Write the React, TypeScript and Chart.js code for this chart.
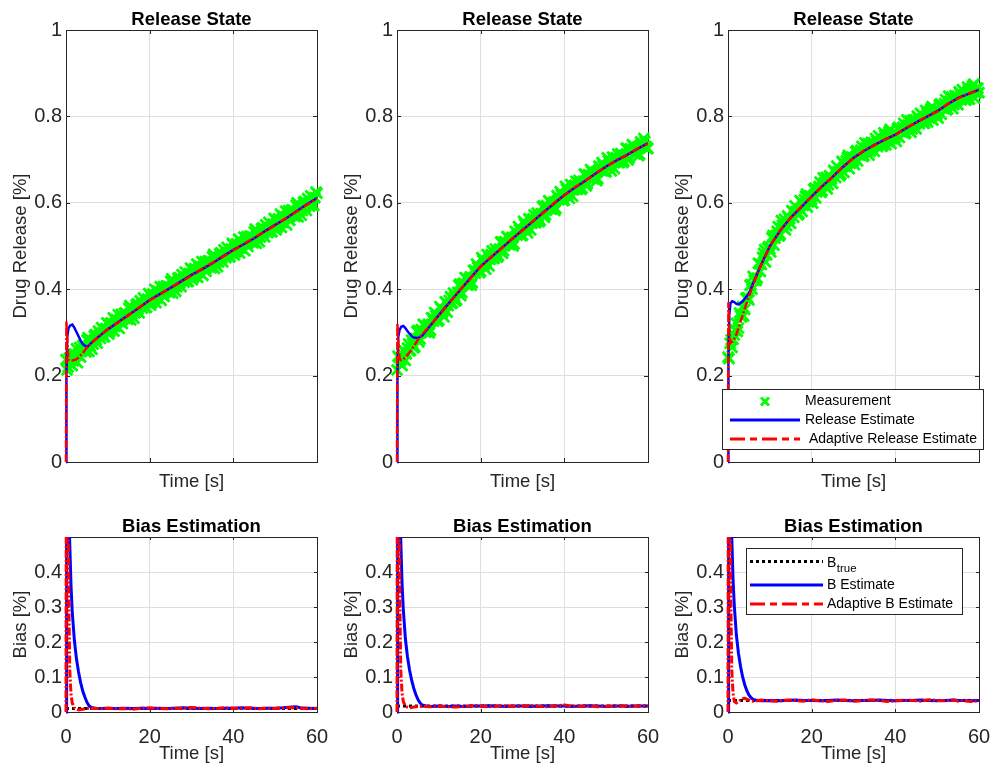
import React, { useEffect, useRef } from 'react';
import { Chart, registerables } from 'chart.js';

Chart.register(...registerables);

const FONT = "Arial, 'Liberation Sans', Helvetica, sans-serif";
const AX = '#262626';
const GRID = '#dedede';
const GREEN = '#00ff00';
const BLUE = '#0000ff';
const RED = '#ff0000';
const RED_DASH = [8, 2, 2, 2];

// ---------- tick values ----------
const X_TICKS = [0, 20, 40, 60];
const Y_TICKS_RELEASE = [0, 0.2, 0.4, 0.6, 0.8, 1];
const Y_TICKS_BIAS = [0, 0.1, 0.2, 0.3, 0.4];

// ---------- measurement (green crosses) ----------
const MEAS_TIME = [
  0, 0.5, 1, 1.5, 2, 2.5, 3, 3.5, 4, 4.5, 5, 5.5, 6, 6.5, 7, 7.5, 8, 8.5, 9, 9.5,
  10, 10.5, 11, 11.5, 12, 12.5, 13, 13.5, 14, 14.5, 15, 15.5, 16, 16.5, 17, 17.5, 18, 18.5, 19, 19.5,
  20, 20.5, 21, 21.5, 22, 22.5, 23, 23.5, 24, 24.5, 25, 25.5, 26, 26.5, 27, 27.5, 28, 28.5, 29, 29.5,
  30, 30.5, 31, 31.5, 32, 32.5, 33, 33.5, 34, 34.5, 35, 35.5, 36, 36.5, 37, 37.5, 38, 38.5, 39, 39.5,
  40, 40.5, 41, 41.5, 42, 42.5, 43, 43.5, 44, 44.5, 45, 45.5, 46, 46.5, 47, 47.5, 48, 48.5, 49, 49.5,
  50, 50.5, 51, 51.5, 52, 52.5, 53, 53.5, 54, 54.5, 55, 55.5, 56, 56.5, 57, 57.5, 58, 58.5, 59, 59.5,
  60,
];

const MEAS_TIME_B = [
  0.25, 0.75, 1.25, 1.75, 2.25, 2.75, 3.25, 3.75, 4.25, 4.75, 5.25, 5.75, 6.25, 6.75, 7.25, 7.75, 8.25, 8.75, 9.25, 9.75,
  10.25, 10.75, 11.25, 11.75, 12.25, 12.75, 13.25, 13.75, 14.25, 14.75, 15.25, 15.75, 16.25, 16.75, 17.25, 17.75, 18.25, 18.75, 19.25, 19.75,
  20.25, 20.75, 21.25, 21.75, 22.25, 22.75, 23.25, 23.75, 24.25, 24.75, 25.25, 25.75, 26.25, 26.75, 27.25, 27.75, 28.25, 28.75, 29.25, 29.75,
  30.25, 30.75, 31.25, 31.75, 32.25, 32.75, 33.25, 33.75, 34.25, 34.75, 35.25, 35.75, 36.25, 36.75, 37.25, 37.75, 38.25, 38.75, 39.25, 39.75,
  40.25, 40.75, 41.25, 41.75, 42.25, 42.75, 43.25, 43.75, 44.25, 44.75, 45.25, 45.75, 46.25, 46.75, 47.25, 47.75, 48.25, 48.75, 49.25, 49.75,
  50.25, 50.75, 51.25, 51.75, 52.25, 52.75, 53.25, 53.75, 54.25, 54.75, 55.25, 55.75, 56.25, 56.75, 57.25, 57.75, 58.25, 58.75, 59.25, 59.75,
];

const MEAS_1 = [
  0.237, 0.220, 0.238, 0.223, 0.250, 0.262, 0.247, 0.243, 0.269, 0.262,
  0.282, 0.256, 0.282, 0.273, 0.295, 0.275, 0.294, 0.311, 0.290, 0.309,
  0.320, 0.302, 0.319, 0.303, 0.330, 0.341, 0.324, 0.320, 0.345, 0.337,
  0.356, 0.329, 0.354, 0.345, 0.366, 0.345, 0.364, 0.380, 0.358, 0.377,
  0.387, 0.369, 0.385, 0.369, 0.395, 0.406, 0.388, 0.383, 0.408, 0.399,
  0.418, 0.391, 0.416, 0.406, 0.427, 0.406, 0.424, 0.440, 0.418, 0.436,
  0.446, 0.428, 0.443, 0.427, 0.453, 0.464, 0.446, 0.441, 0.466, 0.456,
  0.475, 0.448, 0.473, 0.463, 0.484, 0.463, 0.481, 0.497, 0.475, 0.493,
  0.503, 0.485, 0.501, 0.484, 0.510, 0.521, 0.504, 0.499, 0.523, 0.514,
  0.533, 0.506, 0.531, 0.521, 0.542, 0.521, 0.539, 0.555, 0.533, 0.551,
  0.561, 0.543, 0.559, 0.543, 0.569, 0.581, 0.564, 0.559, 0.584, 0.575,
  0.594, 0.567, 0.592, 0.582, 0.603, 0.582, 0.600, 0.616, 0.594, 0.612,
  0.622,
];
const MEAS_1B = [
  0.213, 0.240, 0.253, 0.234, 0.247, 0.230, 0.265, 0.256, 0.268, 0.255,
  0.288, 0.269, 0.261, 0.292, 0.283, 0.303, 0.286, 0.299, 0.290, 0.322,
  0.296, 0.322, 0.334, 0.314, 0.327, 0.309, 0.342, 0.333, 0.344, 0.330,
  0.362, 0.342, 0.333, 0.364, 0.354, 0.373, 0.356, 0.368, 0.358, 0.390,
  0.363, 0.389, 0.400, 0.380, 0.392, 0.374, 0.406, 0.396, 0.407, 0.392,
  0.424, 0.404, 0.395, 0.425, 0.415, 0.434, 0.416, 0.428, 0.418, 0.449,
  0.422, 0.448, 0.458, 0.438, 0.450, 0.432, 0.464, 0.454, 0.465, 0.449,
  0.481, 0.461, 0.452, 0.482, 0.472, 0.491, 0.473, 0.485, 0.475, 0.506,
  0.479, 0.505, 0.516, 0.495, 0.507, 0.489, 0.522, 0.512, 0.522, 0.507,
  0.539, 0.519, 0.510, 0.540, 0.530, 0.549, 0.531, 0.543, 0.533, 0.564,
  0.537, 0.563, 0.574, 0.554, 0.566, 0.549, 0.582, 0.572, 0.583, 0.568,
  0.600, 0.580, 0.571, 0.601, 0.591, 0.610, 0.592, 0.604, 0.594, 0.625,
];

const MEAS_2 = [
  0.213, 0.242, 0.236, 0.259, 0.235, 0.264, 0.257, 0.282, 0.264, 0.286,
  0.305, 0.285, 0.305, 0.317, 0.301, 0.319, 0.305, 0.333, 0.346, 0.331,
  0.328, 0.356, 0.349, 0.371, 0.347, 0.374, 0.367, 0.391, 0.372, 0.393,
  0.412, 0.392, 0.413, 0.426, 0.410, 0.429, 0.415, 0.444, 0.458, 0.443,
  0.441, 0.467, 0.459, 0.480, 0.454, 0.480, 0.471, 0.493, 0.474, 0.493,
  0.510, 0.489, 0.508, 0.520, 0.503, 0.520, 0.505, 0.532, 0.545, 0.529,
  0.525, 0.551, 0.543, 0.563, 0.537, 0.563, 0.554, 0.576, 0.556, 0.575,
  0.593, 0.572, 0.591, 0.602, 0.585, 0.602, 0.587, 0.614, 0.626, 0.610,
  0.606, 0.631, 0.623, 0.642, 0.615, 0.641, 0.631, 0.652, 0.631, 0.650,
  0.666, 0.644, 0.663, 0.673, 0.655, 0.671, 0.656, 0.682, 0.693, 0.677,
  0.672, 0.697, 0.687, 0.706, 0.679, 0.704, 0.693, 0.714, 0.693, 0.710,
  0.726, 0.704, 0.721, 0.731, 0.713, 0.729, 0.712, 0.738, 0.749, 0.731,
  0.726,
];
const MEAS_2B = [
  0.245, 0.229, 0.223, 0.257, 0.250, 0.273, 0.258, 0.274, 0.267, 0.302,
  0.278, 0.306, 0.319, 0.301, 0.315, 0.299, 0.334, 0.326, 0.339, 0.326,
  0.360, 0.343, 0.336, 0.369, 0.362, 0.383, 0.368, 0.383, 0.375, 0.409,
  0.385, 0.413, 0.427, 0.410, 0.424, 0.409, 0.444, 0.437, 0.451, 0.438,
  0.473, 0.454, 0.446, 0.478, 0.469, 0.489, 0.472, 0.485, 0.477, 0.509,
  0.483, 0.510, 0.522, 0.504, 0.517, 0.500, 0.534, 0.525, 0.538, 0.524,
  0.557, 0.538, 0.530, 0.561, 0.552, 0.572, 0.555, 0.568, 0.559, 0.591,
  0.566, 0.593, 0.605, 0.586, 0.599, 0.582, 0.616, 0.607, 0.619, 0.605,
  0.638, 0.618, 0.610, 0.640, 0.630, 0.650, 0.632, 0.644, 0.634, 0.666,
  0.639, 0.665, 0.677, 0.657, 0.669, 0.651, 0.685, 0.675, 0.686, 0.672,
  0.704, 0.684, 0.674, 0.704, 0.694, 0.713, 0.694, 0.706, 0.696, 0.726,
  0.699, 0.725, 0.735, 0.715, 0.727, 0.709, 0.741, 0.731, 0.742, 0.726,
];

const MEAS_3 = [
  0.243, 0.275, 0.265, 0.294, 0.321, 0.310, 0.339, 0.360, 0.353, 0.380,
  0.375, 0.410, 0.430, 0.422, 0.426, 0.459, 0.457, 0.483, 0.463, 0.496,
  0.493, 0.519, 0.502, 0.525, 0.545, 0.527, 0.548, 0.562, 0.547, 0.566,
  0.552, 0.580, 0.593, 0.578, 0.575, 0.602, 0.594, 0.615, 0.590, 0.616,
  0.608, 0.631, 0.611, 0.631, 0.648, 0.628, 0.647, 0.659, 0.642, 0.660,
  0.645, 0.672, 0.685, 0.669, 0.666, 0.692, 0.684, 0.705, 0.679, 0.706,
  0.697, 0.718, 0.697, 0.715, 0.731, 0.709, 0.727, 0.737, 0.719, 0.735,
  0.719, 0.744, 0.755, 0.737, 0.732, 0.756, 0.746, 0.765, 0.737, 0.762,
  0.751, 0.772, 0.751, 0.768, 0.784, 0.762, 0.780, 0.790, 0.771, 0.787,
  0.771, 0.797, 0.807, 0.790, 0.784, 0.809, 0.800, 0.818, 0.791, 0.815,
  0.805, 0.826, 0.805, 0.823, 0.839, 0.817, 0.835, 0.845, 0.827, 0.843,
  0.827, 0.852, 0.862, 0.844, 0.838, 0.862, 0.852, 0.870, 0.842, 0.866,
  0.855,
];
const MEAS_3B = [
  0.239, 0.283, 0.284, 0.306, 0.302, 0.345, 0.336, 0.338, 0.379, 0.380,
  0.409, 0.400, 0.421, 0.420, 0.460, 0.441, 0.474, 0.492, 0.479, 0.499,
  0.486, 0.524, 0.518, 0.534, 0.523, 0.559, 0.542, 0.537, 0.570, 0.563,
  0.582, 0.566, 0.580, 0.572, 0.605, 0.580, 0.607, 0.620, 0.602, 0.615,
  0.599, 0.634, 0.625, 0.638, 0.624, 0.658, 0.639, 0.632, 0.663, 0.655,
  0.675, 0.658, 0.672, 0.663, 0.696, 0.670, 0.697, 0.710, 0.691, 0.705,
  0.688, 0.721, 0.711, 0.722, 0.707, 0.739, 0.719, 0.710, 0.740, 0.730,
  0.749, 0.730, 0.742, 0.731, 0.762, 0.734, 0.759, 0.770, 0.749, 0.761,
  0.742, 0.775, 0.765, 0.775, 0.760, 0.792, 0.772, 0.763, 0.792, 0.782,
  0.801, 0.783, 0.794, 0.784, 0.814, 0.787, 0.813, 0.823, 0.803, 0.814,
  0.796, 0.829, 0.819, 0.830, 0.815, 0.847, 0.827, 0.818, 0.848, 0.838,
  0.857, 0.838, 0.849, 0.838, 0.868, 0.840, 0.865, 0.875, 0.854, 0.865,
];

// ---------- release estimates ----------
const EST_TIME = [
  0, 0.1, 0.3, 0.6, 1, 1.5, 2, 2.5, 3, 3.5, 4, 5, 6, 7.5,
  10, 12.5, 15, 17.5, 20, 22.5, 25, 27.5, 30, 32.5, 35, 37.5, 40, 42.5, 45, 47.5, 50, 52.5, 55, 57.5, 60,
];

const REL_EST_1 = [
  0, 0.20, 0.29, 0.31, 0.316, 0.318, 0.311, 0.301, 0.291, 0.281, 0.273, 0.266, 0.275, 0.288,
  0.307, 0.324, 0.341, 0.357, 0.375, 0.389, 0.403, 0.418, 0.433, 0.446, 0.460, 0.476, 0.491, 0.504, 0.518, 0.534, 0.549, 0.563, 0.580, 0.596, 0.611,
];
const ADAPT_EST_1 = [
  0, 0.325, 0.28, 0.236, 0.236, 0.235, 0.236, 0.238, 0.242, 0.247, 0.252, 0.265, 0.275, 0.287,
  0.308, 0.323, 0.340, 0.358, 0.374, 0.388, 0.404, 0.417, 0.432, 0.447, 0.461, 0.475, 0.490, 0.505, 0.519, 0.533, 0.548, 0.564, 0.579, 0.595, 0.610,
];

const REL_EST_2 = [
  0, 0.20, 0.29, 0.305, 0.313, 0.315, 0.310, 0.303, 0.297, 0.291, 0.288, 0.287, 0.292, 0.310,
  0.340, 0.369, 0.397, 0.425, 0.453, 0.474, 0.495, 0.516, 0.537, 0.557, 0.578, 0.598, 0.618, 0.635, 0.651, 0.668, 0.684, 0.698, 0.711, 0.725, 0.738,
];
const ADAPT_EST_2 = [
  0, 0.32, 0.28, 0.238, 0.236, 0.238, 0.242, 0.248, 0.254, 0.260, 0.268, 0.283, 0.295, 0.312,
  0.339, 0.368, 0.398, 0.424, 0.452, 0.475, 0.494, 0.517, 0.536, 0.558, 0.577, 0.599, 0.617, 0.636, 0.650, 0.669, 0.683, 0.699, 0.710, 0.726, 0.737,
];

const REL_EST_3 = [
  0, 0.24, 0.34, 0.368, 0.372, 0.370, 0.366, 0.365, 0.368, 0.372, 0.378, 0.390, 0.413, 0.448,
  0.500, 0.536, 0.566, 0.590, 0.615, 0.638, 0.660, 0.683, 0.704, 0.720, 0.734, 0.746, 0.758, 0.772, 0.786, 0.799, 0.812, 0.828, 0.843, 0.852, 0.862,
];
const ADAPT_EST_3 = [
  0, 0.37, 0.31, 0.275, 0.278, 0.285, 0.295, 0.310, 0.325, 0.340, 0.355, 0.383, 0.410, 0.447,
  0.499, 0.537, 0.565, 0.591, 0.614, 0.639, 0.659, 0.684, 0.703, 0.721, 0.733, 0.747, 0.757, 0.773, 0.785, 0.800, 0.811, 0.829, 0.842, 0.853, 0.861,
];

// ---------- bias ----------
const BIAS_TIME = [
  0, 0.1, 0.2, 0.3, 0.4, 0.5, 0.7, 0.9, 1.2, 1.5, 2, 2.5, 3, 3.5, 4, 4.5, 5, 5.5, 6, 7, 8,
  10, 12, 14, 16, 18, 20, 22, 24, 26, 28, 30, 32, 34, 36, 38, 40, 42, 44, 46, 48, 50, 52, 54,
  55, 56, 58, 60,
];

const B_EST_1 = [
  0, 0.75, 0.82, 0.80, 0.76, 0.68, 0.57, 0.48, 0.36, 0.285, 0.205, 0.152, 0.114, 0.084, 0.060, 0.043, 0.028, 0.018, 0.013, 0.011, 0.010,
  0.011, 0.010, 0.011, 0.010, 0.011, 0.010, 0.011, 0.010, 0.011, 0.012, 0.011, 0.010, 0.011, 0.010, 0.011, 0.011, 0.012, 0.011, 0.010, 0.011, 0.011, 0.012, 0.014,
  0.015, 0.012, 0.011, 0.010,
];
const ADAPT_B_1 = [
  0, 0.90, 0.90, 0.85, 0.72, 0.58, 0.30, 0.12, 0.05, 0.025, 0.012, 0.008, 0.006, 0.007, 0.008, 0.009, 0.010, 0.011, 0.010, 0.011, 0.009,
  0.011, 0.009, 0.010, 0.008, 0.011, 0.012, 0.010, 0.009, 0.011, 0.010, 0.013, 0.011, 0.009, 0.010, 0.012, 0.011, 0.010, 0.012, 0.009, 0.011, 0.010, 0.012, 0.013,
  0.012, 0.011, 0.009, 0.011,
];
const B_TRUE_TIME = [0, 60];
const B_TRUE_1 = [0.010, 0.010];

const B_EST_2 = [
  0, 0.75, 0.82, 0.80, 0.76, 0.69, 0.58, 0.49, 0.37, 0.295, 0.21, 0.158, 0.12, 0.091, 0.068, 0.050, 0.036, 0.026, 0.020, 0.017, 0.016,
  0.017, 0.016, 0.017, 0.016, 0.017, 0.017, 0.018, 0.017, 0.016, 0.017, 0.017, 0.016, 0.017, 0.018, 0.017, 0.017, 0.016, 0.017, 0.018, 0.017, 0.016, 0.017, 0.017,
  0.016, 0.017, 0.017, 0.017,
];
const ADAPT_B_2 = [
  0, 0.90, 0.90, 0.85, 0.72, 0.58, 0.30, 0.12, 0.055, 0.03, 0.017, 0.014, 0.012, 0.013, 0.014, 0.015, 0.016, 0.016, 0.017, 0.016, 0.015,
  0.017, 0.015, 0.014, 0.016, 0.018, 0.017, 0.015, 0.017, 0.018, 0.016, 0.017, 0.019, 0.016, 0.015, 0.018, 0.020, 0.017, 0.016, 0.018, 0.015, 0.017, 0.016, 0.018,
  0.017, 0.016, 0.018, 0.017,
];
const B_TRUE_2 = [0.017, 0.017];

const B_EST_3 = [
  0, 0.75, 0.82, 0.80, 0.76, 0.70, 0.59, 0.50, 0.38, 0.305, 0.22, 0.168, 0.13, 0.10, 0.078, 0.061, 0.049, 0.041, 0.036, 0.033, 0.032,
  0.033, 0.032, 0.033, 0.034, 0.033, 0.033, 0.032, 0.033, 0.034, 0.033, 0.032, 0.033, 0.033, 0.034, 0.033, 0.032, 0.033, 0.033, 0.034, 0.033, 0.032, 0.033, 0.034,
  0.033, 0.033, 0.032, 0.033,
];
const ADAPT_B_3 = [
  0, 0.90, 0.90, 0.85, 0.72, 0.58, 0.30, 0.12, 0.055, 0.03, 0.026, 0.029, 0.034, 0.038, 0.039, 0.037, 0.034, 0.032, 0.031, 0.032, 0.034,
  0.032, 0.031, 0.034, 0.033, 0.031, 0.035, 0.032, 0.030, 0.033, 0.034, 0.031, 0.032, 0.035, 0.033, 0.030, 0.032, 0.034, 0.033, 0.031, 0.035, 0.033, 0.032, 0.034,
  0.031, 0.033, 0.030, 0.032,
];
const B_TRUE_3 = [0.033, 0.033];

// ---------- text ----------
const TITLE_RELEASE = 'Release State';
const TITLE_BIAS = 'Bias Estimation';
const YLABEL_RELEASE = 'Drug Release [%]';
const YLABEL_BIAS = 'Bias [%]';
const XLABEL = 'Time [s]';
const LEG_RELEASE = ['Measurement', 'Release Estimate', ' Adaptive Release Estimate'];
const LEG_BIAS = ['B', 'true', 'B Estimate', 'Adaptive B Estimate'];

const MEAS = [MEAS_1, MEAS_2, MEAS_3];
const MEAS_B = [MEAS_1B, MEAS_2B, MEAS_3B];
const REL_EST = [REL_EST_1, REL_EST_2, REL_EST_3];
const ADAPT_EST = [ADAPT_EST_1, ADAPT_EST_2, ADAPT_EST_3];
const B_EST = [B_EST_1, B_EST_2, B_EST_3];
const ADAPT_B = [ADAPT_B_1, ADAPT_B_2, ADAPT_B_3];
const B_TRUE = [B_TRUE_1, B_TRUE_2, B_TRUE_3];

const pts = (xs: number[], ys: number[]) => xs.map((x, i) => ({ x, y: ys[i] }));

// ---------- layout ----------
const CANVAS_LEFT = [0, 331, 662];
const CANVAS_W = 330;
const PLOT_W = 251;
const YAXIS_W = 66;

type Kind = 'release' | 'bias';
interface Spec { kind: Kind; idx: number }

const panelPlugin = {
  id: 'panel',
  beforeDatasetsDraw(chart: any) {
    const { ctx, chartArea: a } = chart;
    const o = chart.options.plugins.panel;
    ctx.save();
    ctx.strokeStyle = AX;
    ctx.lineWidth = 1;
    ctx.strokeRect(a.left + 0.5, a.top + 0.5, a.right - a.left, a.bottom - a.top);
    const tl = o.kind === 'release' ? 4 : 3;
    const xs = chart.scales.x;
    const ys = chart.scales.y;
    ctx.beginPath();
    for (const v of X_TICKS) {
      const px = Math.round(xs.getPixelForValue(v)) + 0.5;
      ctx.moveTo(px, a.bottom);
      ctx.lineTo(px, a.bottom - tl);
      ctx.moveTo(px, a.top);
      ctx.lineTo(px, a.top + tl);
    }
    const yt = o.kind === 'release' ? Y_TICKS_RELEASE : Y_TICKS_BIAS;
    for (const v of yt) {
      const py = Math.round(ys.getPixelForValue(v)) + 0.5;
      ctx.moveTo(a.left, py);
      ctx.lineTo(a.left + tl, py);
      ctx.moveTo(a.right, py);
      ctx.lineTo(a.right - tl, py);
    }
    ctx.stroke();
    ctx.restore();
  },
  afterDraw(chart: any) {
    const { ctx, chartArea: a } = chart;
    const o = chart.options.plugins.panel;
    const cx = (a.left + a.right) / 2;
    ctx.save();
    ctx.fillStyle = '#000';
    ctx.font = `bold 18.5px ${FONT}`;
    ctx.textAlign = 'center';
    ctx.textBaseline = 'alphabetic';
    ctx.fillText(o.kind === 'release' ? TITLE_RELEASE : TITLE_BIAS, cx, a.top - 5);
    ctx.fillStyle = AX;
    ctx.font = `18.5px ${FONT}`;
    ctx.textBaseline = 'middle';
    ctx.fillText(XLABEL, cx, o.kind === 'release' ? a.bottom + 20 : a.bottom + 42);
    ctx.save();
    ctx.translate(21, (a.top + a.bottom) / 2);
    ctx.rotate(-Math.PI / 2);
    ctx.fillText(o.kind === 'release' ? YLABEL_RELEASE : YLABEL_BIAS, 0, 0);
    ctx.restore();

    if (o.legend && o.kind === 'release') {
      const L = a.left;
      const T = a.top;
      ctx.fillStyle = '#fff';
      ctx.fillRect(L - 6, T + 359, 261, 60);
      ctx.strokeStyle = AX;
      ctx.lineWidth = 1;
      ctx.strokeRect(L - 6 + 0.5, T + 359 + 0.5, 261, 60);
      const rows = [T + 371.5, T + 390, T + 409];
      ctx.strokeStyle = GREEN;
      ctx.lineWidth = 3;
      ctx.beginPath();
      ctx.moveTo(L + 33, rows[0] - 4);
      ctx.lineTo(L + 41, rows[0] + 4);
      ctx.moveTo(L + 33, rows[0] + 4);
      ctx.lineTo(L + 41, rows[0] - 4);
      ctx.stroke();
      ctx.strokeStyle = BLUE;
      ctx.beginPath();
      ctx.moveTo(L + 2, rows[1]);
      ctx.lineTo(L + 72, rows[1]);
      ctx.stroke();
      ctx.strokeStyle = RED;
      ctx.setLineDash([15, 5, 7, 5]);
      ctx.beginPath();
      ctx.moveTo(L + 2, rows[2]);
      ctx.lineTo(L + 72, rows[2]);
      ctx.stroke();
      ctx.setLineDash([]);
      ctx.fillStyle = '#000';
      ctx.font = `14px ${FONT}`;
      ctx.textAlign = 'left';
      ctx.textBaseline = 'middle';
      LEG_RELEASE.forEach((t, i) => ctx.fillText(t, L + 77, rows[i]));
    }
    if (o.legend && o.kind === 'bias') {
      const L = a.left;
      const T = a.top;
      ctx.fillStyle = '#fff';
      ctx.fillRect(L + 18, T + 11, 216, 66);
      ctx.strokeStyle = AX;
      ctx.lineWidth = 1;
      ctx.strokeRect(L + 18 + 0.5, T + 11 + 0.5, 216, 66);
      const rows = [T + 24.5, T + 48, T + 67];
      ctx.lineWidth = 3;
      ctx.strokeStyle = '#000';
      ctx.setLineDash([3, 3]);
      ctx.beginPath();
      ctx.moveTo(L + 22, rows[0]);
      ctx.lineTo(L + 95, rows[0]);
      ctx.stroke();
      ctx.setLineDash([]);
      ctx.strokeStyle = BLUE;
      ctx.beginPath();
      ctx.moveTo(L + 22, rows[1]);
      ctx.lineTo(L + 95, rows[1]);
      ctx.stroke();
      ctx.strokeStyle = RED;
      ctx.setLineDash([15, 5, 7, 5]);
      ctx.beginPath();
      ctx.moveTo(L + 22, rows[2]);
      ctx.lineTo(L + 95, rows[2]);
      ctx.stroke();
      ctx.setLineDash([]);
      ctx.fillStyle = '#000';
      ctx.textAlign = 'left';
      ctx.textBaseline = 'alphabetic';
      ctx.font = `14px ${FONT}`;
      ctx.fillText(LEG_BIAS[0], L + 99, rows[0] + 5);
      const bw = ctx.measureText(LEG_BIAS[0]).width;
      ctx.font = `11.5px ${FONT}`;
      ctx.fillText(LEG_BIAS[1], L + 99 + bw + 0.5, rows[0] + 10);
      ctx.font = `14px ${FONT}`;
      ctx.textBaseline = 'middle';
      ctx.fillText(LEG_BIAS[2], L + 99, rows[1]);
      ctx.fillText(LEG_BIAS[3], L + 99, rows[2]);
    }
    ctx.restore();
  },
};

function buildConfig(spec: Spec): any {
  const { kind, idx } = spec;
  const isRel = kind === 'release';
  const lineClip = { left: 3, top: 0, right: 0, bottom: 3 };
  const lw = isRel ? 2.5 : 3;
  const measStyle = {
    showLine: false,
    pointStyle: 'crossRot',
    pointRadius: 7.5,
    borderWidth: 2.8,
    borderColor: GREEN,
    backgroundColor: GREEN,
    clip: false,
    order: 3,
  };
  const datasets: any[] = isRel
    ? [
        { label: 'Measurement', data: pts(MEAS_TIME, MEAS[idx]), ...measStyle },
        { label: 'Measurement (b)', data: pts(MEAS_TIME_B, MEAS_B[idx]), ...measStyle },
        {
          label: 'Release Estimate',
          data: pts(EST_TIME, REL_EST[idx]),
          showLine: true,
          pointRadius: 0,
          borderWidth: lw,
          borderColor: BLUE,
          clip: lineClip,
          order: 2,
        },
        {
          label: 'Adaptive Release Estimate',
          data: pts(EST_TIME, ADAPT_EST[idx]),
          showLine: true,
          pointRadius: 0,
          borderWidth: lw,
          borderColor: RED,
          borderDash: RED_DASH,
          borderCapStyle: 'butt',
          clip: lineClip,
          order: 1,
        },
      ]
    : [
        {
          label: 'B_true',
          data: pts(B_TRUE_TIME, B_TRUE[idx]),
          showLine: true,
          pointRadius: 0,
          borderWidth: 3,
          borderColor: '#000',
          borderDash: [3, 3],
          borderCapStyle: 'butt',
          clip: lineClip,
          order: 3,
        },
        {
          label: 'B Estimate',
          data: pts(BIAS_TIME, B_EST[idx]),
          showLine: true,
          pointRadius: 0,
          borderWidth: lw,
          borderColor: BLUE,
          clip: lineClip,
          order: 2,
        },
        {
          label: 'Adaptive B Estimate',
          data: pts(BIAS_TIME, ADAPT_B[idx]),
          showLine: true,
          pointRadius: 0,
          borderWidth: lw,
          borderColor: RED,
          borderDash: RED_DASH,
          borderCapStyle: 'butt',
          clip: lineClip,
          order: 1,
        },
      ];

  const tickFont = { family: FONT, size: 20 };
  const yTicks = isRel ? Y_TICKS_RELEASE : Y_TICKS_BIAS;
  return {
    type: 'scatter',
    data: { datasets },
    plugins: [panelPlugin],
    options: {
      responsive: false,
      animation: false,
      events: [],
      layout: {
        padding: { top: isRel ? 30 : 32, right: CANVAS_W - YAXIS_W - PLOT_W, bottom: 0, left: 0 },
      },
      plugins: {
        legend: { display: false },
        tooltip: { enabled: false },
        title: { display: false },
        panel: { kind, legend: idx === 2 },
      },
      scales: {
        x: {
          type: 'linear',
          min: 0,
          max: 60,
          afterBuildTicks: (axis: any) => {
            axis.ticks = X_TICKS.map((v) => ({ value: v }));
          },
          afterFit: (axis: any) => {
            axis.height = isRel ? 38 : 60;
            axis.paddingLeft = 0;
            axis.paddingRight = 0;
          },
          grid: { color: GRID, lineWidth: 1, drawTicks: false },
          border: { display: false },
          ticks: {
            display: !isRel,
            font: tickFont,
            color: AX,
            padding: 13,
            maxRotation: 0,
            minRotation: 0,
            autoSkip: false,
            callback: (v: number) => String(v),
          },
        },
        y: {
          type: 'linear',
          min: 0,
          max: isRel ? 1 : 0.5,
          afterBuildTicks: (axis: any) => {
            axis.ticks = yTicks.map((v) => ({ value: v }));
          },
          afterFit: (axis: any) => {
            axis.width = YAXIS_W;
            axis.paddingTop = 0;
            axis.paddingBottom = 0;
          },
          grid: { color: GRID, lineWidth: 1, drawTicks: false },
          border: { display: false },
          ticks: {
            font: tickFont,
            color: AX,
            padding: 4,
            autoSkip: false,
            callback: (v: number) => String(v),
          },
        },
      },
    },
  };
}

function Panel({ spec }: { spec: Spec }) {
  const ref = useRef<HTMLCanvasElement>(null);
  const top = spec.kind === 'release' ? 0 : 505;
  const h = spec.kind === 'release' ? 500 : 267;
  const left = CANVAS_LEFT[spec.idx];
  useEffect(() => {
    const chart = new Chart(ref.current as HTMLCanvasElement, buildConfig(spec));
    return () => chart.destroy();
  }, []);
  return (
    <canvas
      ref={ref}
      width={CANVAS_W}
      height={h}
      style={{ position: 'absolute', left, top, width: CANVAS_W, height: h, display: 'block' }}
    />
  );
}

const SPECS: Spec[] = [
  { kind: 'release', idx: 0 },
  { kind: 'release', idx: 1 },
  { kind: 'release', idx: 2 },
  { kind: 'bias', idx: 0 },
  { kind: 'bias', idx: 1 },
  { kind: 'bias', idx: 2 },
];

export default function App() {
  return (
    <div
      style={{
        position: 'absolute',
        left: 0,
        top: 0,
        width: 992,
        height: 772,
        overflow: 'hidden',
        background: '#fff',
      }}
    >
      {SPECS.map((s) => (
        <Panel key={`${s.kind}-${s.idx}`} spec={s} />
      ))}
    </div>
  );
}
